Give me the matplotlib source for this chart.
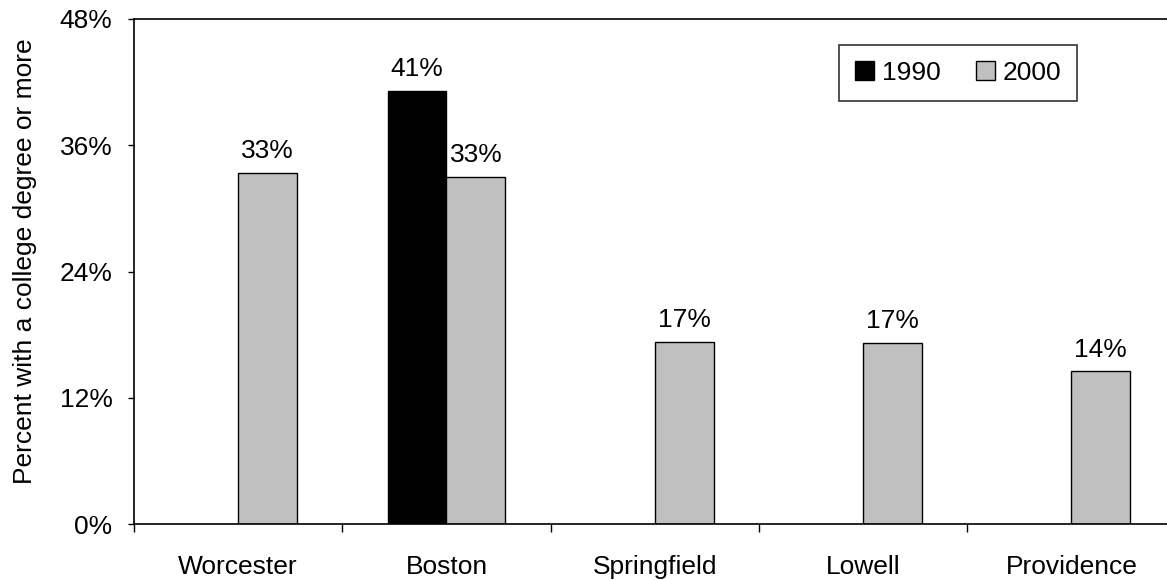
import numpy as np
import matplotlib
matplotlib.use("Agg")
import matplotlib.pyplot as plt
from matplotlib.ticker import FixedLocator, FuncFormatter

plt.rcParams['font.family'] = ['Liberation Sans', 'DejaVu Sans']

cities = ["Worcester", "Boston", "Springfield", "Lowell", "Providence"]
pct_1990 = [np.nan, 41.2, np.nan, np.nan, np.nan]
pct_2000 = [33.4, 33.0, 17.3, 17.2, 14.5]
y_ticks = [0, 12, 24, 36, 48]

FS = 19

fig = plt.figure(figsize=(11.67, 5.8), dpi=100)
ax = fig.add_axes([134/1167, 56/580, 1041.5/1167, 505/580])

x = np.arange(len(cities))
w = 0.283
ax.bar(x - w/2, pct_1990, w, color="black", edgecolor="black", linewidth=1, label="1990")
ax.bar(x + w/2, pct_2000, w, color="#c0c0c0", edgecolor="black", linewidth=1, label="2000")

# value labels above every bar that exists
for xs, vals in ((x - w/2, pct_1990), (x + w/2, pct_2000)):
    for xi, v in zip(xs, vals):
        if np.isnan(v):
            continue
        ax.annotate(f"{v:.0f}%", (xi, v), xytext=(0, 7), textcoords="offset points",
                    ha="center", va="bottom", fontsize=FS)

ax.set_xlim(-0.5, len(cities) - 0.5)
ax.set_ylim(0, 48)

ax.yaxis.set_major_locator(FixedLocator(y_ticks))
ax.yaxis.set_major_formatter(FuncFormatter(lambda v, p: f"{v:.0f}%"))
ax.tick_params(axis="y", direction="out", length=4.5, width=1, pad=11, labelsize=FS)

# ticks on the category boundaries, names centred between them
ax.set_xticks(np.arange(len(cities) + 1) - 0.5)
ax.set_xticklabels([])
ax.set_xticks(x, minor=True)
ax.set_xticklabels(cities, minor=True)
ax.tick_params(axis="x", which="major", direction="out", length=5.5, width=1)
ax.tick_params(axis="x", which="minor", length=0, pad=22, labelsize=FS)

for s in ax.spines.values():
    s.set_linewidth(1.2)

ax.set_ylabel("Percent with a college degree or more", fontsize=FS)
ax.yaxis.set_label_coords(-0.093, 0.521)

leg = ax.legend(loc="upper right", bbox_to_anchor=(0.9054, 0.9485), borderaxespad=0,
                ncol=2, fontsize=FS, frameon=True, fancybox=False, edgecolor="black",
                handlelength=0.72, handleheight=0.72, handletextpad=0.3, columnspacing=1.33,
                borderpad=0.6)
leg.get_frame().set_linewidth(1.2)

fig.savefig("out.png", dpi=100)
